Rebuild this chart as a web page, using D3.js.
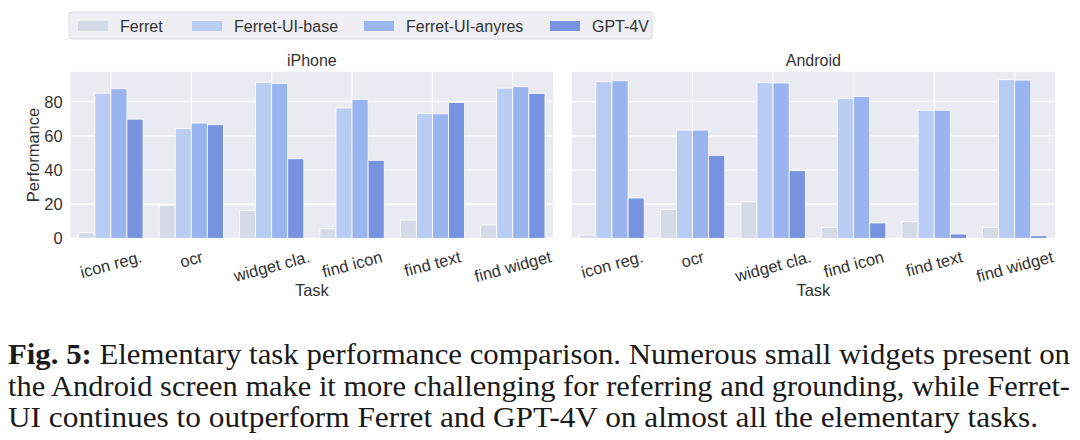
<!DOCTYPE html>
<html>
<head>
<meta charset="utf-8">
<script src="https://cdn.jsdelivr.net/npm/d3@7"></script>
<style>
  body { margin: 0; background: #fff; }
  svg { display: block; }
</style>
</head>
<body>
<div id="chart"></div>
<script>
// data
const tasks = ["icon reg.", "ocr", "widget cla.", "find icon", "find text", "find widget"];
const models = ["Ferret", "Ferret-UI-base", "Ferret-UI-anyres", "GPT-4V"];
const colors = ["#d5dbe6", "#b9ccf3", "#9ab4ef", "#7792de"];
const yTicks = [0, 20, 40, 60, 80];

const iphoneFerret = [3.3, 19.1, 16.2, 5.6, 10.7, 7.8];
const iphoneBase   = [85.0, 64.2, 91.3, 76.3, 73.0, 88.0];
const iphoneAnyres = [87.6, 67.5, 90.8, 81.4, 72.9, 88.8];
const iphoneGpt    = [69.8, 66.5, 46.6, 45.7, 79.6, 84.9];

const androidFerret = [1.9, 16.8, 21.4, 6.4, 9.7, 6.4];
const androidBase   = [91.7, 63.4, 91.1, 81.8, 75.0, 92.9];
const androidAnyres = [92.3, 63.4, 91.0, 83.1, 75.0, 92.7];
const androidGpt    = [23.6, 48.6, 39.6, 9.0, 2.5, 1.5];

const panels = [
  { title: "iPhone", series: [iphoneFerret, iphoneBase, iphoneAnyres, iphoneGpt], x0: 70.7, x1: 553 },
  { title: "Android", series: [androidFerret, androidBase, androidAnyres, androidGpt], x0: 571.7, x1: 1055 }
];

const captionLines = [
  { bold: "Fig. 5:", text: " Elementary task performance comparison. Numerous small widgets present on", len: 1062 },
  { bold: "", text: "the Android screen make it more challenging for referring and grounding, while Ferret-", len: 1062 },
  { bold: "", text: "UI continues to outperform Ferret and GPT-4V on almost all the elementary tasks.", len: 1030 }
];

const W = 1080, H = 440;
const plotTop = 71.7, plotBottom = 238.3;
const ink = "#333";
const sans = "'Liberation Sans', Arial, sans-serif";
const tickSize = 16.5;

const svg = d3.select("#chart").append("svg")
  .attr("width", W).attr("height", H);

const y = d3.scaleLinear().domain([0, 97.6]).range([plotBottom, plotTop]);

panels.forEach((p, pi) => {
  const x = d3.scaleBand().domain(tasks).range([p.x0, p.x1]).paddingInner(0.2).paddingOuter(0.1);
  const xs = d3.scaleBand().domain(models).range([0, x.bandwidth()]);
  const g = svg.append("g");

  g.append("rect")
    .attr("x", p.x0).attr("y", plotTop)
    .attr("width", p.x1 - p.x0).attr("height", plotBottom - plotTop)
    .attr("fill", "#eaeaf2");

  // grid
  g.selectAll(".hgrid").data(yTicks).enter().append("line")
    .attr("x1", p.x0).attr("x2", p.x1)
    .attr("y1", d => y(d)).attr("y2", d => y(d))
    .attr("stroke", "#fff").attr("stroke-width", 1.2);
  g.selectAll(".vgrid").data(tasks).enter().append("line")
    .attr("x1", d => x(d) + x.bandwidth() / 2).attr("x2", d => x(d) + x.bandwidth() / 2)
    .attr("y1", plotTop).attr("y2", plotBottom)
    .attr("stroke", "#fff").attr("stroke-width", 1.2);

  // bars
  p.series.forEach((vals, si) => {
    g.selectAll(".bar" + si).data(vals).enter().append("rect")
      .attr("x", (d, i) => x(tasks[i]) + xs(models[si]))
      .attr("y", d => y(d))
      .attr("width", xs.bandwidth())
      .attr("height", d => y(0) - y(d))
      .attr("fill", colors[si])
      .attr("stroke", "#fff").attr("stroke-width", 0.8);
  });

  // title
  g.append("text")
    .attr("x", (p.x0 + p.x1) / 2).attr("y", 60)
    .attr("text-anchor", "middle").attr("dominant-baseline", "central")
    .attr("font-family", sans).attr("font-size", 16).attr("fill", ink)
    .text(p.title);

  // x tick labels, rotated
  const ang = 15, rad = ang * Math.PI / 180;
  tasks.forEach(t => {
    const tx = g.append("text")
      .attr("text-anchor", "middle").attr("dominant-baseline", "central")
      .attr("font-family", sans).attr("font-size", tickSize).attr("fill", ink)
      .text(t);
    const w = tx.node().getComputedTextLength();
    const h = tickSize;
    const cy = 248 + (w * Math.sin(rad) + h * Math.cos(rad)) / 2;
    tx.attr("transform", `translate(${x(t) + x.bandwidth() / 2},${cy}) rotate(${-ang})`);
  });

  g.append("text")
    .attr("x", (p.x0 + p.x1) / 2).attr("y", 290)
    .attr("text-anchor", "middle").attr("dominant-baseline", "central")
    .attr("font-family", sans).attr("font-size", tickSize).attr("fill", ink)
    .text("Task");

  if (pi === 0) {
    g.selectAll(".ytick").data(yTicks).enter().append("text")
      .attr("x", p.x0 - 8).attr("y", d => y(d))
      .attr("text-anchor", "end").attr("dominant-baseline", "central")
      .attr("font-family", sans).attr("font-size", tickSize).attr("fill", ink)
      .text(d => d);
    g.append("text")
      .attr("transform", `translate(33,${(plotTop + plotBottom) / 2}) rotate(-90)`)
      .attr("text-anchor", "middle").attr("dominant-baseline", "central")
      .attr("font-family", sans).attr("font-size", tickSize).attr("fill", ink)
      .text("Performance");
  }
});

// legend
const leg = svg.append("g");
leg.append("rect")
  .attr("x", 69).attr("y", 12).attr("width", 583).attr("height", 27)
  .attr("rx", 3).attr("fill", "#eeeef3").attr("stroke", "#d8d8de").attr("stroke-width", 1);
const legX = [78, 192, 364, 550];
models.forEach((m, i) => {
  leg.append("rect")
    .attr("x", legX[i]).attr("y", 21).attr("width", 30).attr("height", 10)
    .attr("fill", colors[i]);
  leg.append("text")
    .attr("x", legX[i] + 42).attr("y", 26)
    .attr("dominant-baseline", "central")
    .attr("font-family", sans).attr("font-size", 16).attr("fill", ink)
    .text(m);
});

// caption
const cap = svg.append("g");
captionLines.forEach((l, i) => {
  const t = cap.append("text")
    .attr("x", 8).attr("y", 364 + i * 31.5)
    .attr("font-family", "'Liberation Serif', 'DejaVu Serif', serif")
    .attr("font-size", 28.5).attr("fill", "#1a1a1a")
    .attr("textLength", l.len).attr("lengthAdjust", "spacingAndGlyphs");
  if (l.bold) t.append("tspan").attr("font-weight", "bold").text(l.bold);
  t.append("tspan").text(l.text);
});
</script>
</body>
</html>
